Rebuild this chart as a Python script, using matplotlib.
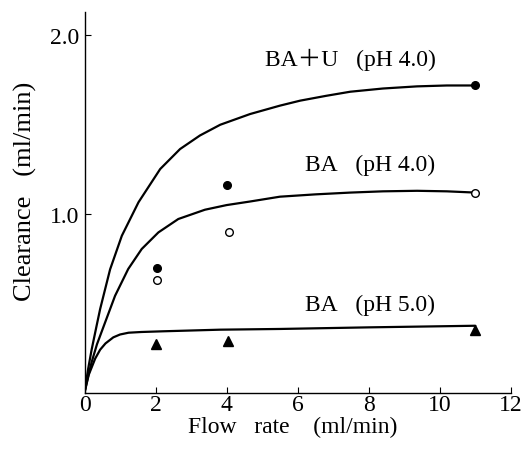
#import necessary libraries
import numpy as np
import matplotlib.pyplot as plt

flow_u = [2.05, 4.0, 11.0]
clear_u = [0.70, 1.16, 1.72]          #BA+U (pH 4.0), filled circles
flow_ba4 = [2.05, 4.08, 11.0]
clear_ba4 = [0.63, 0.90, 1.12]        #BA (pH 4.0), open circles
flow_ba5 = [2.02, 4.03, 11.0]
clear_ba5 = [0.27, 0.29, 0.35]        #BA (pH 5.0), triangles

#fitted curves, points
curve_u_x = [0, 0.1, 0.2, 0.34, 0.44, 0.72, 1.05, 1.52, 2.13, 2.69, 3.25, 3.82,
             4.66, 5.5, 6.07, 6.8, 7.48, 8.4, 9.36, 10.2, 11.0]
curve_u_y = [0, 0.13, 0.24, 0.374, 0.468, 0.69, 0.878, 1.066, 1.252, 1.364, 1.44, 1.50,
             1.56, 1.607, 1.635, 1.662, 1.685, 1.703, 1.715, 1.72, 1.72]
curve_ba4_x = [0, 0.1, 0.2, 0.35, 0.58, 0.86, 1.23, 1.61, 2.08, 2.64, 3.39, 4.0,
               4.66, 5.5, 6.5, 7.48, 8.4, 9.36, 10.2, 11.0]
curve_ba4_y = [0, 0.09, 0.17, 0.27, 0.393, 0.542, 0.692, 0.804, 0.897, 0.972, 1.024, 1.05,
               1.07, 1.097, 1.11, 1.12, 1.127, 1.13, 1.127, 1.12]
curve_ba5_x = [0, 0.12, 0.3, 0.44, 0.59, 0.81, 1.0, 1.24, 1.6, 2.22, 3.82,
               5.5, 8.0, 11.0]
curve_ba5_y = [0, 0.10, 0.19, 0.24, 0.275, 0.309, 0.325, 0.335, 0.339, 0.343, 0.352,
               0.356, 0.365, 0.374]

labels = ['BA\uff0bU\u2002 (pH 4.0)', 'BA\u2002 (pH 4.0)', 'BA\u2002 (pH 5.0)']
label_pos = [(5.08, 1.87), (6.2, 1.28), (6.2, 0.496)]

plt.rcParams['font.family'] = ['Liberation Serif', 'Noto Sans CJK JP', 'DejaVu Serif']

fig = plt.figure(figsize=(5.25, 4.52), dpi=100)
ax = fig.add_axes([0.161, 0.1294, 0.812, 0.8412])

#curves
for cx, cy in [(curve_u_x, curve_u_y), (curve_ba4_x, curve_ba4_y), (curve_ba5_x, curve_ba5_y)]:
    ax.plot(cx, cy, color='black', lw=1.6, solid_capstyle='round', solid_joinstyle='round')

#data points
ax.plot(flow_u, clear_u, 'o', color='black', ms=5.5, zorder=3)
ax.plot(flow_ba4, clear_ba4, 'o', mfc='white', mec='black', mew=1.0, ms=5.5, zorder=3)
ax.plot(flow_ba5, clear_ba5, '^', color='black', ms=7, zorder=3)

#curve labels
for txt, (lx, ly) in zip(labels, label_pos):
    ax.text(lx, ly, txt, fontsize=17, va='center', ha='left')

#axes styling
ax.set_xlim(0, 12)
ax.set_ylim(0, 2.13)
ax.spines['top'].set_visible(False)
ax.spines['right'].set_visible(False)
ax.spines['left'].set_linewidth(1.0)
ax.spines['bottom'].set_linewidth(1.0)
ax.set_xticks([0, 2, 4, 6, 8, 10, 12])
ax.set_xticklabels(['0', '2', '4', '6', '8', '10', '12'])
ax.set_yticks([1.0, 2.0])
ax.set_yticklabels(['1.0', '2.0'])
ax.tick_params(direction='in', length=4, width=0.8, labelsize=17, pad=1)
ax.tick_params(axis='y', pad=4)

ax.set_xlabel('Flow\u2002 rate\u2003(ml/min)', fontsize=17)
ax.xaxis.set_label_coords(0.488, -0.062)
ax.set_ylabel('Clearance\u2002 (ml/min)', fontsize=19)
ax.yaxis.set_label_coords(-0.111, 0.531)

#output the graph
fig.savefig('out.png', dpi=100)
